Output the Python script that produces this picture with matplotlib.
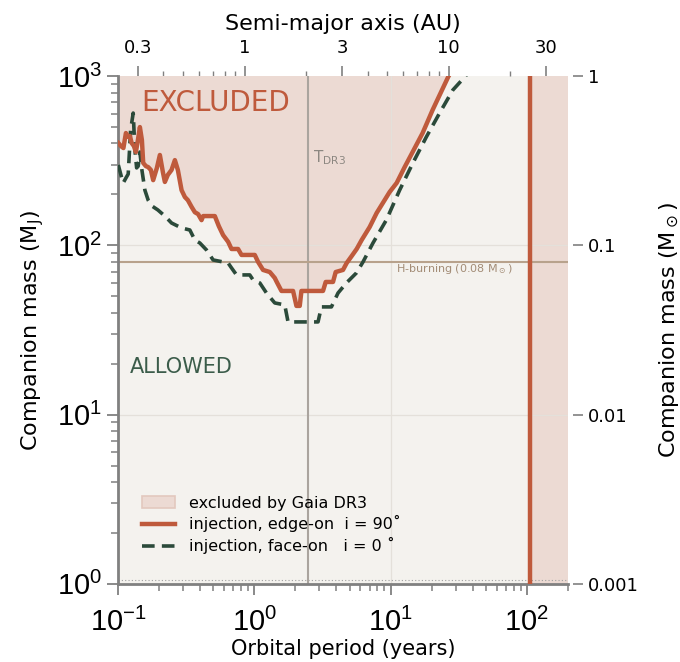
import numpy as np
import matplotlib
matplotlib.use("Agg")
import matplotlib.pyplot as plt
from matplotlib.patches import Patch
from matplotlib.lines import Line2D
from matplotlib.ticker import NullLocator, NullFormatter

# detection limit of Gaia DR3, injection edge-on (i = 90 deg)
period_edge = [0.100, 0.1045, 0.109, 0.1137, 0.1186, 0.1217, 0.1252, 0.1302, 0.1346, 0.1393,
               0.1440, 0.1490, 0.1523, 0.1594, 0.1657, 0.1734, 0.1803, 0.1920, 0.2019, 0.2124,
               0.2197, 0.2311, 0.2460, 0.2602, 0.2737, 0.2914, 0.3082, 0.3242, 0.3449, 0.3648,
               0.3856, 0.4085, 0.4197, 0.5113, 0.5470, 0.5883, 0.6403, 0.6781, 0.758, 0.803,
               1.005, 1.063, 1.156, 1.295, 1.409, 1.457, 1.578, 1.920, 2.033, 2.150,
               2.212, 3.186, 3.335, 3.773, 3.949, 4.467, 4.755, 5.175, 5.630, 6.128,
               7.015, 7.895, 9.83, 11.07, 12.67, 14.50, 17.17, 20.33, 26.64, 29.5]
mass_edge = [403, 386, 376, 461, 437, 443, 403, 386, 356, 419,
             500, 419, 307, 294, 290, 279, 243, 287, 342, 271,
             237, 261, 279, 319, 279, 212, 193, 185, 169, 157,
             153, 141, 149, 149, 130, 115, 105, 95.2, 95.2, 87.8,
             87.8, 79.8, 71.6, 69.6, 64.2, 60.8, 53.8, 53.8, 43.9, 43.9,
             53.8, 53.8, 60.8, 60.8, 69.6, 71.6, 78.7, 86.5, 95.2, 107.6,
             128.4, 155.4, 206.7, 233.7, 290, 356, 461, 631, 1001, 1148]

# injection face-on (i = 0 deg)
period_face = [0.100, 0.1045, 0.1086, 0.1137, 0.1182, 0.1231, 0.1286, 0.1324, 0.1363, 0.140,
               0.144, 0.149, 0.1567, 0.1657, 0.1764, 0.1952, 0.2197, 0.2460, 0.2914, 0.3351,
               0.3648, 0.3969, 0.4444, 0.4969, 0.5883, 0.6403, 0.6781, 0.738, 0.9236, 0.9765,
               1.094, 1.225, 1.409, 1.668, 1.764, 2.929, 3.101, 3.673, 4.106, 4.732,
               5.602, 6.264, 7.417, 9.30, 11.64, 14.57, 18.28, 22.88, 28.64, 35.5, 39.3]
mass_face = [298.5, 260.6, 233.7, 250, 264, 480, 605, 366, 287, 294,
             356, 279, 212, 185, 171, 161.9, 149, 135.6, 126.7, 123.3,
             107.6, 103.3, 93.9, 82.0, 79.8, 78.7, 73.6, 66.9, 66.9, 62.5,
             60.0, 52.3, 45.7, 44.5, 35.3, 35.3, 43.3, 43.3, 52.3, 60.0,
             68.7, 79.8, 103.3, 141.3, 212, 307, 437, 605, 828, 1001, 1148]

t_dr3 = 2.49        # years
p_limit = 105.0     # years
h_burning = 80.0    # M_J  (0.08 M_sun)
m_total = 1.4       # M_sun, Kepler's law for the top axis
mj_per_msun = 1000.0

au_ticks = [0.3, 1, 3, 10, 30]
au_labels = ["0.3", "1", "3", "10", "30"]
msun_ticks = [0.001, 0.01, 0.1, 1]
msun_labels = ["0.001", "0.01", "0.1", "1"]

red = "#bf5a3c"
green = "#2b4a3a"
pink = "#ecdad3"
bg = "#f4f2ee"
gray = "#808080"

fig = plt.figure(figsize=(6.8, 6.62), dpi=100)
ax = fig.add_axes([0.174, 0.118, 0.661, 0.767])
ax.set_facecolor(bg)
ax.set_xscale("log")
ax.set_yscale("log")
ax.set_xlim(0.1, 200)
ax.set_ylim(1, 1000)

# excluded regions
ax.fill_between(period_edge, mass_edge, 3000, color=pink, lw=0, zorder=1)
ax.axvspan(p_limit, 200, color=pink, lw=0, zorder=1)

# faint grid + reference lines
ax.axvline(10, color="#e4e0da", lw=0.9, zorder=1.5)
for m in [10, 100]:
    ax.axhline(m, color="#e4e0da", lw=0.9, zorder=1.5)
ax.axhline(1.05, color="#a0a0a0", lw=0.8, ls=(0, (1, 2)), zorder=1.5)
ax.axvline(t_dr3, color="#aaa49e", lw=1.5, zorder=2)
ax.axhline(h_burning, color="#b8a28c", lw=1.5, zorder=2)

ax.plot(period_face, mass_face, color=green, lw=2.6, ls=(0, (3.5, 2)), zorder=3)
ax.plot(period_edge, mass_edge, color=red, lw=3.2, zorder=4)
ax.axvline(p_limit, color=red, lw=3.2, zorder=4)

ax.text(0.05, 0.947, "EXCLUDED", transform=ax.transAxes, color=red, fontsize=20,
        ha="left", va="center")
ax.text(0.026, 0.427, "ALLOWED", transform=ax.transAxes, color="#3b5c4a", fontsize=15,
        ha="left", va="center")
ax.text(0.433, 0.839, "T$_\\mathrm{DR3}$", transform=ax.transAxes, color="#8c8781",
        fontsize=11, ha="left", va="center")
ax.text(0.617, 0.620, "H-burning (0.08 M$_\\odot$)", transform=ax.transAxes,
        color="#a38c76", fontsize=8, ha="left", va="center")

handles = [Patch(facecolor=pink, edgecolor="#e3c8be", lw=1.2),
           Line2D([], [], color=red, lw=3.2),
           Line2D([], [], color=green, lw=2.6, ls=(0, (3.5, 2)))]
labels = ["excluded by Gaia DR3",
          "injection, edge-on  i = 90˚",
          "injection, face-on   i = 0 ˚"]
ax.legend(handles, labels, loc="lower left", bbox_to_anchor=(0.02, 0.03), frameon=False,
          fontsize=11.5, handlelength=2.1, handletextpad=0.85, labelspacing=0.3)

for s in ["top", "right"]:
    ax.spines[s].set_visible(False)
for s in ["left", "bottom"]:
    ax.spines[s].set_color(gray)
    ax.spines[s].set_linewidth(2)
ax.tick_params(which="major", direction="out", length=8, width=1.3, color=gray,
               labelsize=21, labelfontfamily="Liberation Sans")
ax.tick_params(axis="x", which="major", pad=9)
ax.tick_params(which="minor", direction="out", length=5, width=1.1, color=gray)
ax.set_xlabel("Orbital period (years)", fontsize=15, labelpad=2)
ax.set_ylabel("Companion mass (M$_\\mathrm{J}$)", fontsize=16, labelpad=8)

# top axis: semi-major axis via Kepler's third law
def p_to_a(p):
    return (m_total * np.abs(p) ** 2) ** (1 / 3)

def a_to_p(a):
    return np.sqrt(np.abs(a) ** 3 / m_total)

top = ax.secondary_xaxis("top", functions=(p_to_a, a_to_p))
top.set_xticks(au_ticks, labels=au_labels)
top.xaxis.set_minor_formatter(NullFormatter())
top.spines["top"].set_visible(False)
top.tick_params(which="major", direction="out", length=7, width=1.2, color=gray,
                labelsize=13, pad=7)
top.tick_params(which="minor", direction="out", length=3.5, width=1.0, color=gray)
top.set_xlabel("Semi-major axis (AU)", fontsize=16, labelpad=6)

# right axis: mass in solar masses
right = ax.secondary_yaxis("right", functions=(lambda m: m / mj_per_msun,
                                                lambda s: s * mj_per_msun))
right.set_yticks(msun_ticks, labels=msun_labels)
right.yaxis.set_minor_locator(NullLocator())
right.spines["right"].set_visible(False)
right.spines["right"].set_position(("outward", 4))
right.tick_params(which="major", direction="out", length=7, width=1.2, color=gray, labelsize=13)
right.set_ylabel("Companion mass (M$_\\odot$)", fontsize=16, labelpad=13)

fig.savefig("out.png", dpi=100)
